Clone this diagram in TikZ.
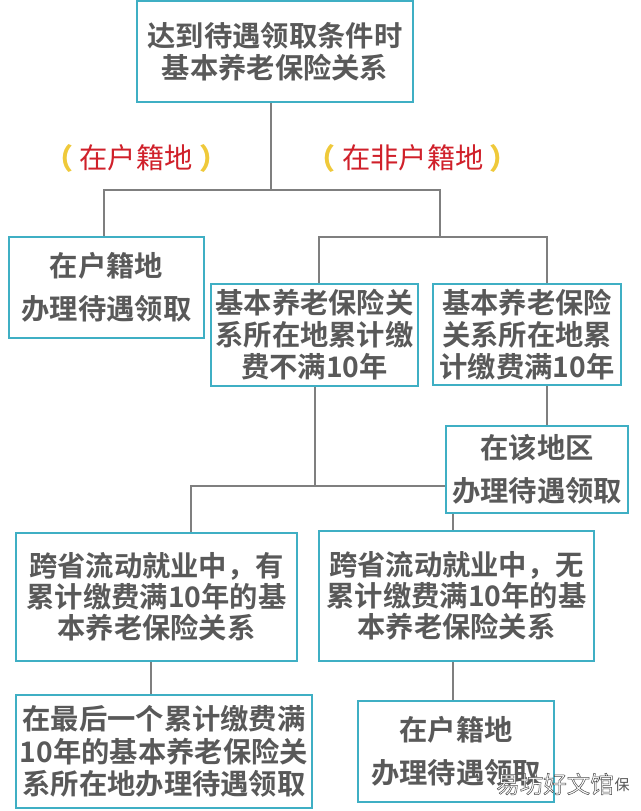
\documentclass[tikz,border=0pt]{standalone}
\usepackage{fontspec}
\usetikzlibrary{backgrounds}
\setmainfont{Noto Sans CJK SC}[BoldFont={* Bold}]
\newfontfamily\cjkreg{Noto Sans CJK SC}
\definecolor{boxc}{HTML}{3FAFC4}
\definecolor{linec}{HTML}{7F7F7F}
\definecolor{txtc}{HTML}{595959}
\definecolor{redc}{HTML}{D0202A}
\definecolor{yelc}{HTML}{EFC93A}
\tikzset{
  x=1pt,y=-1pt,
  box/.style={draw=boxc,line width=2.6pt,fill=white,inner sep=0pt,text=txtc,align=center,font=\fontsize{28.3}{34}\selectfont\bfseries},
  conn/.style={draw=linec,line width=2.2pt},
  note/.style={inner sep=0pt,font=\fontsize{28.3}{34}\cjkreg},
  paren/.style={inner sep=0pt,text=yelc,font=\fontsize{29}{34}\cjkreg\bfseries},
  wmark/.style={inner sep=0pt,font=\fontsize{23.5}{28}\cjkreg},
}
\newcommand{\pbox}[6]{\node[box,minimum width=#4pt-#3pt,minimum height=#6pt-#5pt,anchor=center] (#1) at ({(#3+#4)/2},{(#5+#6)/2}) {#2};}
\begin{document}
\begin{tikzpicture}
\useasboundingbox (0,0) rectangle (640,811);
\coordinate (j0) at (271,190);
\coordinate (jl) at (104,190);
\coordinate (jr) at (440,190);
\coordinate (k0) at (440,237);
\coordinate (kl) at (319,237);
\coordinate (kr) at (547,237);
\coordinate (m0) at (315,486);
\coordinate (ml) at (191,486);
\coordinate (mr) at (453,486);
\pbox{top}{达到待遇领取条件时\\[-2pt]基本养老保险关系}{137}{413}{1}{102}
\pbox{home}{在户籍地\\[9pt]办理待遇领取}{9}{204}{237}{338}
\pbox{less}{基本养老保险关\\[-2pt]系所在地累计缴\\[-2pt]费不满10年}{211}{418}{284}{386}
\pbox{full}{基本养老保险\\[-2pt]关系所在地累\\[-2pt]计缴费满10年}{433}{621}{284}{385}
\pbox{here}{在该地区\\[9pt]办理待遇领取}{446}{628}{426}{513}
\pbox{has}{跨省流动就业中，有\\[-3pt]累计缴费满10年的基\\[-3pt]本养老保险关系}{16}{297}{533}{661}
\pbox{none}{跨省流动就业中，无\\[-3pt]累计缴费满10年的基\\[-3pt]本养老保险关系}{319}{594}{531}{661}
\pbox{last}{在最后一个累计缴费满\\[-1.5pt]10年的基本养老保险关\\[-1.5pt]系所在地办理待遇领取}{16}{312}{695}{808}
\pbox{back}{在户籍地\\[9pt]办理待遇领取}{358}{554}{701}{802}
\coordinate (c1) at (151,680);
\coordinate (c2) at (453,680);
\begin{pgfonlayer}{background}
\fill[white] (0,0) rectangle (640,811);
\draw[conn] (top.south -| j0) -- (j0);
\draw[conn] (home.north -| jl) -- (jl) -- (jr) -- (k0);
\draw[conn] (less.north -| kl) -- (kl) -- (kr) -- (full.north -| kr);
\draw[conn] (full.south -| kr) -- (here.north -| kr);
\draw[conn] (less.south -| m0) -- (m0);
\draw[conn] (has.north -| ml) -- (ml) -- (mr) -- (none.north -| mr);
\draw[conn] (has.south -| c1) -- (last.north -| c1);
\draw[conn] (none.south -| c2) -- (back.north -| c2);
\end{pgfonlayer}
\node[note,text=redc] (n1) at (136,158) {在户籍地};
\node[paren] (p1) at (59,158) {（};
\node[paren] (p2) at (214,158) {）};
\node[note,text=redc] (n2) at (413,158) {在非户籍地};
\node[paren] (p3) at (321,158) {（};
\node[paren] (p4) at (504,158) {）};
\node[inner sep=0pt,text=txtc,font=\fontsize{15}{18}\cjkreg] (wm2) at (622,785) {保};
\node[wmark,text=white] (wm) at (555,784) {\special{pdf:code q 2 Tr 0.5 w 0.3 G 1 g}易坊好文馆\special{pdf:code Q}};
\end{tikzpicture}
\end{document}
